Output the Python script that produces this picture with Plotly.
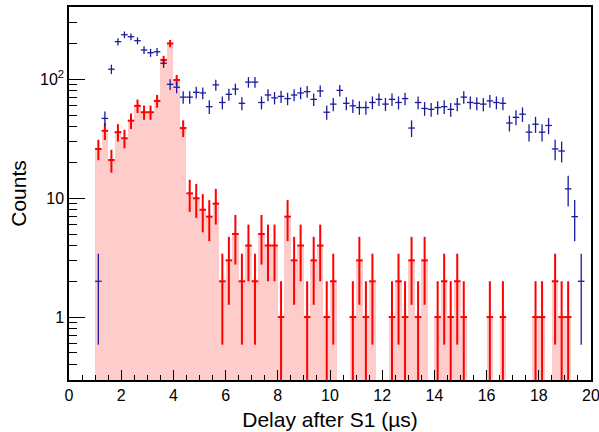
import numpy as np
import plotly.graph_objects as go

bin_width = 0.25
bin_centers = [1.125 + 0.25 * i for i in range(76)]

red_counts = [26, 37, 21, 36, 32, 45, 60, 53, 53, 66, 146, 201, 99, 39, 11, 10,
              8, 7, 9, 2, 3, 5, 2, 4, 2, 5, 4, 4, 1, 7, 3, 4,
              1, 3, 4, 1, 2, 0, 0, 1, 3, 1, 2, 0, 0, 1, 2, 1,
              3, 1, 3, 0, 1, 2, 1, 2, 1, 0, 0, 0, 1, 0, 1, 0,
              0, 0, 0, 1, 1, 0, 2, 1, 1, 0, 0, 0]

blue_counts = [2, 47, 122, 208, 238, 229, 212, 177, 168, 171, 137, 91, 86, 71, 71, 78,
               77, 59, 90, 64, 75, 83, 63, 95, 95, 64, 74, 70, 72, 69, 74, 77,
               79, 68, 80, 53, 62, 81, 63, 60, 58, 58, 64, 68, 62, 68, 64, 69,
               39, 64, 57, 56, 58, 59, 56, 62, 71, 64, 63, 62, 66, 64, 63, 43,
               48, 51, 36, 42, 36, 41, 26, 25, 12, 7, 2, 0]

y_tick_vals = [1, 10, 100]
y_tick_text = ["1", "10", "10<sup>2</sup>"]
x_title = "Delay after S1 (\u00b5s)"
y_title = "Counts"


def nz(v):
    return [c if c > 0 else None for c in v]


def errs(v):
    return [float(np.sqrt(c)) if c > 0 else 0 for c in v]


RED = "#ff0000"
BLUE = "#1a1a9c"
PINK = "#ffcccc"

fig = go.Figure()
fig.add_trace(go.Bar(x=bin_centers, y=nz(red_counts), width=bin_width,
                     marker=dict(color=PINK, line=dict(width=0)),
                     hoverinfo="skip", showlegend=False))
fig.add_trace(go.Scatter(x=bin_centers, y=nz(red_counts), mode="markers",
                         marker=dict(size=1, opacity=0, color=RED),
                         error_y=dict(type="data", array=errs(red_counts), color=RED,
                                      thickness=2, width=0),
                         error_x=dict(type="data", array=[bin_width / 2] * len(bin_centers),
                                      color=RED, thickness=2, width=0),
                         showlegend=False))
fig.add_trace(go.Scatter(x=bin_centers, y=nz(blue_counts), mode="markers",
                         marker=dict(size=1, opacity=0, color=BLUE),
                         error_y=dict(type="data", array=errs(blue_counts), color=BLUE,
                                      thickness=1.3, width=0),
                         error_x=dict(type="data", array=[bin_width / 2] * len(bin_centers),
                                      color=BLUE, thickness=1.3, width=0),
                         showlegend=False))

minor_y = [v * 10 ** d for d in (-1, 0, 1, 2) for v in range(2, 10)
           if 0.29 < v * 10 ** d < 410]

font = "Liberation Sans, Arial, sans-serif"
fig.update_layout(
    width=599, height=432,
    margin=dict(l=69, r=8, t=7, b=52, autoexpand=False),
    paper_bgcolor="white", plot_bgcolor="white",
    bargap=0,
    font=dict(family=font, size=15, color="black"),
    xaxis=dict(range=[0, 20], dtick=2, tick0=0, ticks="inside", ticklen=10,
               tickwidth=1, tickcolor="black", showline=True, linecolor="black",
               linewidth=1.5, mirror=True, showgrid=False, zeroline=False,
               tickfont=dict(size=16), automargin=False, ticklabeloverflow="allow",
               minor=dict(dtick=0.5, tick0=0, ticks="inside", ticklen=5,
                          tickcolor="black", showgrid=False),
               title=dict(text=x_title, font=dict(size=21), standoff=9)),
    yaxis=dict(type="log", range=[-0.530, 2.610], tickmode="array",
               tickvals=y_tick_vals, ticktext=y_tick_text, ticks="inside",
               ticklen=16, tickwidth=1, tickcolor="black", showline=True,
               linecolor="black", linewidth=1.5, mirror=True, showgrid=False,
               zeroline=False, tickfont=dict(size=16), automargin=False,
               ticklabeloverflow="allow",
               minor=dict(tickmode="array", tickvals=minor_y, ticks="inside",
                          ticklen=8, tickcolor="black", showgrid=False),
               title=dict(text=y_title, font=dict(size=21), standoff=8)),
)

fig.write_html("out.html")
